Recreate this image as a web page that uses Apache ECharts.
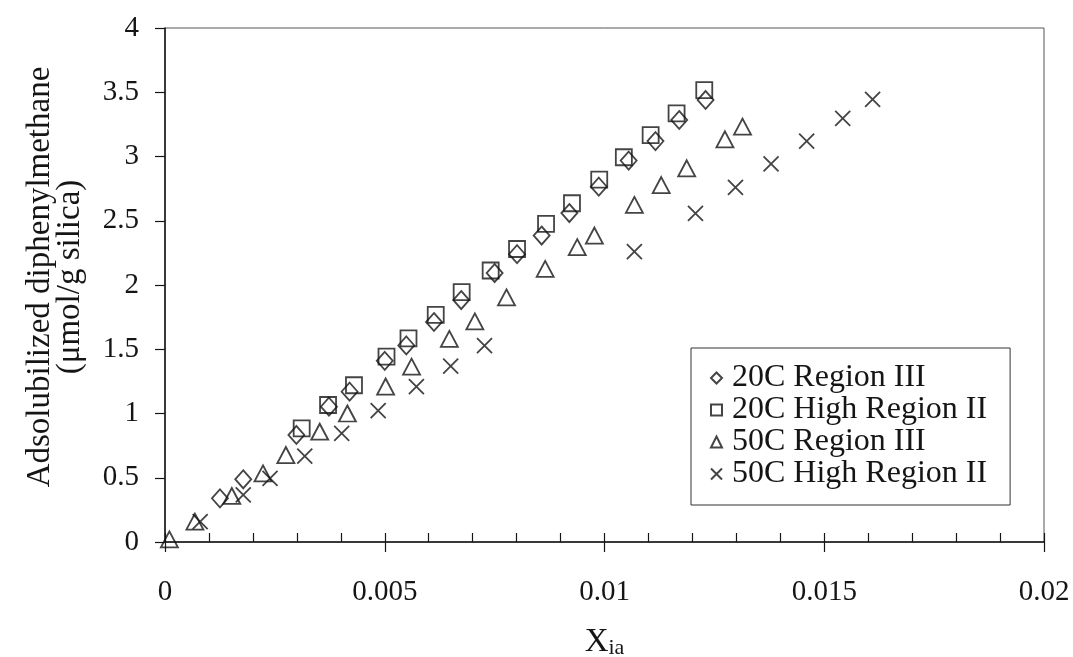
<!DOCTYPE html>
<html>
<head>
<meta charset="utf-8">
<script src="https://cdn.jsdelivr.net/npm/echarts@6/dist/echarts.min.js"></script>
<style>
html,body{margin:0;padding:0;background:#fff;}
#chart{width:1073px;height:657px;}
</style>
</head>
<body>
<div id="chart"></div>
<script>
// ---- data ----
const seriesNames = ['20C Region III', '20C High Region II', '50C Region III', '50C High Region II'];

const region20III = [
  [0.00125, 0.34], [0.00178, 0.488], [0.00299, 0.833], [0.00373, 1.053], [0.0042, 1.17],
  [0.0050, 1.41], [0.00549, 1.53], [0.00612, 1.712], [0.00674, 1.883], [0.0075, 2.093],
  [0.00801, 2.24], [0.00857, 2.385], [0.0092, 2.56], [0.00987, 2.765], [0.01055, 2.968],
  [0.01116, 3.12], [0.0117, 3.284], [0.0123, 3.44]
];
const highRegion20II = [
  [0.00311, 0.885], [0.00371, 1.066], [0.0043, 1.22], [0.00504, 1.442], [0.00554, 1.585],
  [0.00616, 1.767], [0.00675, 1.944], [0.00741, 2.113], [0.00801, 2.28], [0.00867, 2.475],
  [0.00926, 2.636], [0.00988, 2.82], [0.01044, 2.994], [0.01105, 3.167], [0.01164, 3.336],
  [0.01227, 3.517]
];
const region50III = [
  [0.0001, 0.02], [0.00068, 0.158], [0.00152, 0.358], [0.00223, 0.534], [0.00275, 0.677],
  [0.00352, 0.858], [0.00415, 1.0], [0.00502, 1.21], [0.00561, 1.364], [0.00647, 1.58],
  [0.00705, 1.717], [0.00777, 1.904], [0.00865, 2.125], [0.00938, 2.295], [0.00977, 2.385],
  [0.01068, 2.623], [0.01129, 2.778], [0.01187, 2.908], [0.01274, 3.134], [0.01314, 3.232]
];
const highRegion50II = [
  [0.0008, 0.158], [0.00178, 0.366], [0.00239, 0.496], [0.00318, 0.669], [0.00402, 0.846],
  [0.00485, 1.022], [0.00572, 1.21], [0.0065, 1.368], [0.00727, 1.528], [0.01068, 2.259],
  [0.01207, 2.558], [0.01298, 2.76], [0.01379, 2.942], [0.0146, 3.12], [0.01542, 3.297],
  [0.0161, 3.445]
];

const xTickLabels = ['0', '0.005', '0.01', '0.015', '0.02'];
const yTickLabels = ['0', '0.5', '1', '1.5', '2', '2.5', '3', '3.5', '4'];
const yTitle = ['Adsolubilized diphenylmethane', '(\u03bcmol/g silica)'];

// ---- chart ----
const FONT = '"Liberation Serif", "DejaVu Serif", serif';
const INK = '#151515';
const crossPath = 'path://M0,0L10,10M10,0L0,10';

const chart = echarts.init(document.getElementById('chart'), null, {renderer: 'canvas'});

function markerStyle() {
  return {color: 'transparent', borderColor: INK, borderWidth: 1.8};
}

const option = {
  backgroundColor: '#fff',
  animation: false,
  grid: {
    left: 165, right: 29, top: 28, bottom: 115,
    outerBoundsMode: 'none', containLabel: false,
    show: true, borderColor: '#555', borderWidth: 1, backgroundColor: 'transparent'
  },
  legend: {
    orient: 'vertical',
    left: 691, top: 348,
    padding: [14, 23, 15, 19],
    itemGap: 0,
    itemWidth: 11, itemHeight: 11,
    borderColor: '#333', borderWidth: 1,
    backgroundColor: '#fff',
    textStyle: {fontFamily: FONT, fontSize: 32, color: INK, padding: [0, 0, 0, 5]},
    data: [
      {name: seriesNames[0], icon: 'diamond'},
      {name: seriesNames[1], icon: 'rect'},
      {name: seriesNames[2], icon: 'triangle'},
      {name: seriesNames[3], icon: crossPath}
    ]
  },
  xAxis: [
    {
      type: 'value', min: 0, max: 0.02, interval: 0.005, position: 'bottom',
      axisLine: {show: true, onZero: false, lineStyle: {color: INK, width: 1.5}},
      axisTick: {show: true, inside: false, length: 10, lineStyle: {color: INK, width: 1.2}},
      splitLine: {show: false},
      axisLabel: {
        fontFamily: FONT, fontSize: 29, color: INK, margin: 36,
        formatter: v => xTickLabels[Math.round(v / 0.005)]
      },
      name: '{a|X}{b|ia}',
      nameLocation: 'middle',
      nameGap: 84,
      nameTextStyle: {
        rich: {
          a: {fontFamily: FONT, fontSize: 33, color: INK, lineHeight: 33, verticalAlign: 'top'},
          b: {fontFamily: FONT, fontSize: 22, color: INK, lineHeight: 22, padding: [21, 0, 0, 0], verticalAlign: 'bottom'}
        }
      }
    },
    {
      type: 'value', min: 0, max: 0.02, interval: 0.001, position: 'bottom', offset: 0,
      axisLine: {show: false},
      axisTick: {show: true, inside: true, length: 9, lineStyle: {color: INK, width: 1.2}},
      axisLabel: {show: false},
      splitLine: {show: false}
    }
  ],
  yAxis: {
    type: 'value', min: 0, max: 4, interval: 0.5,
    axisLine: {show: true, onZero: false, lineStyle: {color: INK, width: 1.5}},
    axisTick: {show: true, inside: false, length: 10, lineStyle: {color: INK, width: 1.2}},
    splitLine: {show: false},
    axisLabel: {
      fontFamily: FONT, fontSize: 29, color: INK, margin: 26,
      formatter: v => yTickLabels[Math.round(v / 0.5)]
    },
    name: yTitle.join('\n'),
    nameLocation: 'middle',
    nameGap: 80,
    nameRotate: 90,
    nameTextStyle: {fontFamily: FONT, fontSize: 33, color: INK, lineHeight: 30, align: 'center', padding: [0, 0, 0, 16]}
  },
  series: [
    {name: seriesNames[1], type: 'scatter', data: highRegion20II, symbol: 'rect', symbolSize: [16, 16], itemStyle: markerStyle(), z: 2},
    {name: seriesNames[0], type: 'scatter', data: region20III, symbol: 'diamond', symbolSize: [16, 18], itemStyle: markerStyle(), z: 3},
    {name: seriesNames[2], type: 'scatter', data: region50III, symbol: 'triangle', symbolSize: [17, 16], itemStyle: markerStyle(), z: 2},
    {name: seriesNames[3], type: 'scatter', data: highRegion50II, symbol: crossPath, symbolSize: [15, 15], itemStyle: markerStyle(), z: 2}
  ]
};

chart.setOption(option);
</script>
</body>
</html>
